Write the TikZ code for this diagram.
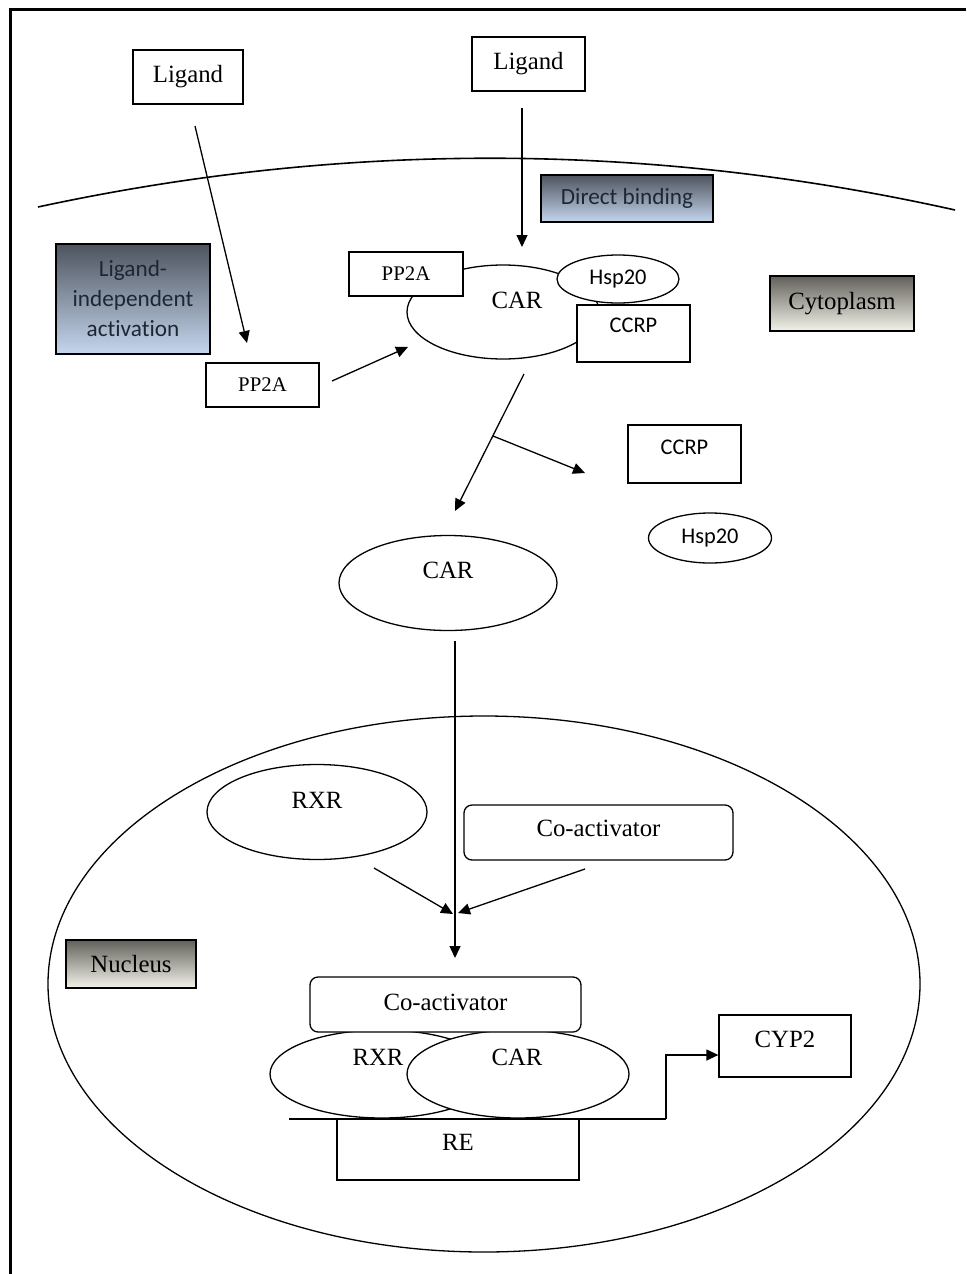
\documentclass[tikz,border=0pt]{standalone}
\usepackage{fontspec}
\setmainfont{Liberation Serif}
\newfontfamily\calibrifont[Ligatures=NoCommon]{Carlito}
\usetikzlibrary{arrows.meta,shapes.geometric,calc}
\definecolor{bluetop}{RGB}{78,84,94}
\definecolor{bluebot}{RGB}{196,214,238}
\definecolor{greytop}{RGB}{98,96,90}
\definecolor{greybot}{RGB}{244,243,234}
\definecolor{darktext}{RGB}{30,38,52}
\begin{document}
\begin{tikzpicture}[x=0.5pt,y=-0.5pt,
  ln/.style={line width=0.65pt},
  arr/.style={ln,-{Triangle[length=6pt,width=5.5pt]}},
  serif/.style={font=\fontsize{12.4}{14}\selectfont},
  sans/.style={font=\calibrifont\fontsize{11.2}{13}\selectfont},
  boxnode/.style={draw,ln,fill=white,inner sep=0pt,rectangle},
  ellnode/.style={draw,ln,fill=white,inner sep=0pt,ellipse},
  roundnode/.style={draw,ln,fill=white,inner sep=0pt,rectangle,rounded corners=4pt},
  bluelabel/.style={draw,line width=0.8pt,inner sep=0pt,shading=axis,top color=bluetop,bottom color=bluebot,text=darktext,font=\calibrifont\fontsize{11.6}{15}\selectfont,align=center},
  greylabel/.style={draw,line width=0.8pt,inner sep=0pt,shading=axis,top color=greytop,bottom color=greybot,text=black,font=\fontsize{12.4}{14}\selectfont},
  txt/.style={inner sep=0pt}
]
\useasboundingbox (0,0) rectangle (966,1274);
% frame
\draw[line width=1.5pt] (10,1274) -- (10,9) -- (966,9);
% membrane
\coordinate (memL) at (38,207);
\coordinate (memR) at (955,210);
\draw[line width=0.8pt] (memL) .. controls (344,141) and (650,142) .. (memR);
% nucleus
\node[draw,ln,ellipse,inner sep=0pt,minimum width=436pt,minimum height=268pt] (nucleus) at (484,984) {};

% top ligands
\node[boxnode,serif,minimum width=55pt,minimum height=27pt] (lig1) at (188,77) {Ligand};
\node[boxnode,serif,minimum width=56.5pt,minimum height=27pt] (lig2) at (528.5,64) {Ligand};

% labels
\node[bluelabel,minimum width=86pt,minimum height=23.5pt] (direct) at (627,198.5) {Direct binding};
\node[bluelabel,minimum width=77pt,minimum height=55pt] (indep) at (133,299) {Ligand-\\independent\\activation};
\node[greylabel,minimum width=72pt,minimum height=27.5pt] (cyto) at (842,303.5) {Cytoplasm};
\node[greylabel,minimum width=65pt,minimum height=24pt] (nuclab) at (131,964) {Nucleus};

% complex in cytoplasm
\node[ellnode,minimum width=96pt,minimum height=47pt] (carc) at (503,312) {};
\node[txt,serif] (carctext) at (517,300) {CAR};
\node[boxnode,serif,font=\fontsize{10.4}{12}\selectfont,minimum width=57pt,minimum height=22pt] (pp2ac) at (406,274) {PP2A};
\node[ellnode,sans,minimum width=61pt,minimum height=24pt] (hspc) at (618,279) {Hsp20};
\node[boxnode,minimum width=56.5pt,minimum height=28.5pt] (ccrpc) at (633.5,333.5) {};
\node[txt,sans] (ccrpctext) at (633.5,325) {CCRP};

% free PP2A
\node[boxnode,serif,font=\fontsize{10.4}{12}\selectfont,minimum width=56.5pt,minimum height=22pt] (pp2a) at (262.5,385) {PP2A};

% released
\node[boxnode,minimum width=56.5pt,minimum height=29pt] (ccrp) at (684.5,454) {};
\node[txt,sans] (ccrptext) at (684.5,447) {CCRP};
\node[ellnode,sans,minimum width=61.5pt,minimum height=25pt] (hsp) at (710,538) {Hsp20};

% free CAR
\node[ellnode,minimum width=109pt,minimum height=47.5pt] (car) at (448,583) {};
\node[txt,serif] (cartext) at (448,570) {CAR};

% nucleus contents
\node[ellnode,minimum width=110pt,minimum height=47.5pt] (rxr) at (317,812) {};
\node[txt,serif] (rxrtext) at (317,800) {RXR};
\node[roundnode,serif,minimum width=134.5pt,minimum height=27.5pt] (coact) at (598.5,832.5) {};
\node[txt,serif] (coacttext) at (598.5,828) {Co-activator};

% bound complex
\node[ellnode,minimum width=112pt,minimum height=44pt] (rxrb) at (382,1074) {};
\node[ellnode,minimum width=111pt,minimum height=44pt] (carb) at (518,1074) {};
\node[roundnode,minimum width=135.5pt,minimum height=27.5pt] (coactb) at (445.5,1004.5) {};
\node[txt,serif] (coactbtext) at (445.5,1002) {Co-activator};
\node[txt,serif] (rxrbtext) at (378,1057) {RXR};
\node[txt,serif] (carbtext) at (517,1057) {CAR};
\node[boxnode,minimum width=121pt,minimum height=30.5pt] (re) at (458,1149.5) {};
\node[txt,serif] (retext) at (458,1142) {RE};
\node[boxnode,minimum width=66pt,minimum height=31pt] (cyp) at (785,1046) {};
\node[txt,serif] (cyptext) at (785,1039) {CYP2};

% DNA line
\coordinate (dnaL) at (289,1119);
\coordinate (dnaK) at (666,1119);
\coordinate (dnaU) at (666,1055);
\draw[ln] (dnaL) -- (dnaK);
\draw[arr] (dnaK) -- (dnaU) -- (cyp.west |- dnaU);

% arrows
\coordinate (a1s) at (195,126); \coordinate (a1e) at (247,343);
\draw[arr] (a1s) -- (a1e);
\coordinate (a2s) at (522,108); \coordinate (a2e) at (522,247);
\draw[arr] (a2s) -- (a2e);
\coordinate (a3s) at (332,381); \coordinate (a3e) at (408,347);
\draw[arr] (a3s) -- (a3e);
\coordinate (a4s) at (524,374); \coordinate (a4e) at (455,511);
\draw[arr] (a4s) -- (a4e);
\coordinate (a5s) at (493,436); \coordinate (a5e) at (585,473);
\draw[arr] (a5s) -- (a5e);
\coordinate (a6s) at (455,641); \coordinate (a6e) at (455,958);
\draw[arr] (a6s) -- (a6e);
\coordinate (a7s) at (374,868); \coordinate (a7e) at (453,914);
\draw[arr] (a7s) -- (a7e);
\coordinate (a8s) at (585,869); \coordinate (a8e) at (458,913);
\draw[arr] (a8s) -- (a8e);
\end{tikzpicture}
\end{document}
